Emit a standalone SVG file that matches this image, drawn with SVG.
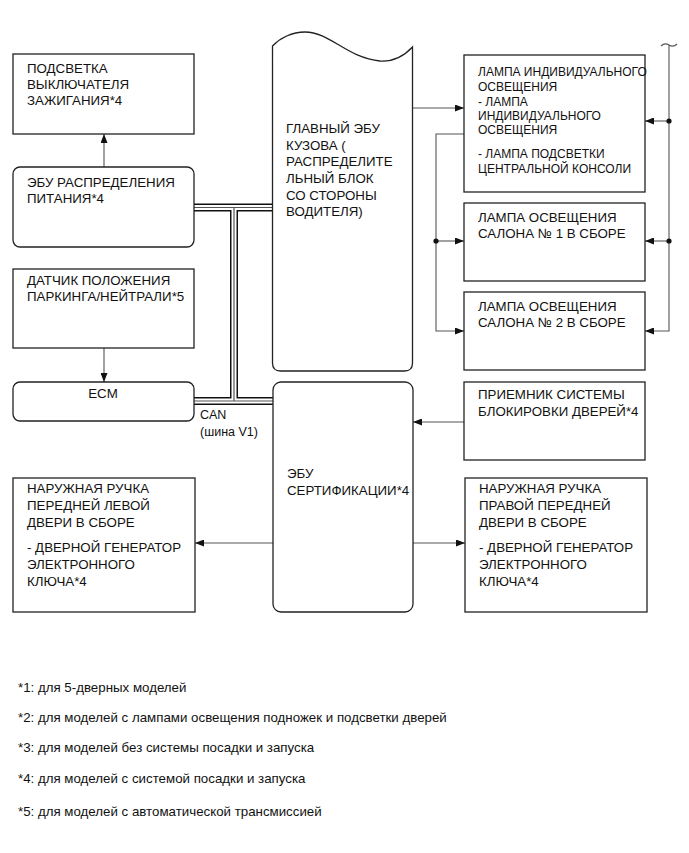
<svg xmlns="http://www.w3.org/2000/svg" width="689" height="853" viewBox="0 0 689 853">
<style>
text{font-family:"Liberation Sans",Arial,sans-serif;fill:#111;}
.t{font-size:13.3px;}
.s{font-size:12px;}
.c{font-size:12.5px;}
.f{font-size:13.3px;}
.box{fill:#fff;stroke:#222;stroke-width:1.3;}
.ln{fill:none;stroke:#555;stroke-width:1.1;}
.busA{fill:none;stroke:#111;stroke-width:8;}
.busB{fill:none;stroke:#fff;stroke-width:5;}
.busC{fill:none;stroke:#555;stroke-width:1.2;}
.dot{fill:#111;}
</style>
<defs>
<marker id="ah" viewBox="0 0 9 7" refX="9" refY="3.5" markerWidth="9" markerHeight="7" markerUnits="userSpaceOnUse" orient="auto"><path d="M0,0 L9,3.5 L0,7 z" fill="#111"/></marker>
</defs>
<rect width="689" height="853" fill="#fff"/>

<g id="connectors">
<path class="busA" d="M194,207.5 H272 M234,207.5 V401 M194,401 H273"/>
<path class="busB" d="M194,207.5 H272 M234,207.5 V401 M194,401 H273"/>
<path class="busC" d="M194,207.5 H272 M234,207.5 V401 M194,401 H273"/>
<path class="ln" d="M104,167 V134" marker-end="url(#ah)"/>
<path class="ln" d="M104,348 V382" marker-end="url(#ah)"/>
<path class="ln" d="M412,108 H464" marker-end="url(#ah)"/>
<path class="ln" d="M464,134 H436 V331 H464" marker-end="url(#ah)"/>
<path class="ln" d="M436,241 H464" marker-end="url(#ah)"/>
<path class="ln" d="M661,46 C664,43 666,43 669,45 C672,47 674,47 677,44"/>
<path class="ln" d="M669,45 V331 H645" marker-end="url(#ah)"/>
<path class="ln" d="M669,121 H645" marker-end="url(#ah)"/>
<path class="ln" d="M669,241 H645" marker-end="url(#ah)"/>
<path class="ln" d="M464,422 H413" marker-end="url(#ah)"/>
<path class="ln" d="M273,543 H195" marker-end="url(#ah)"/>
<path class="ln" d="M413,543 H465" marker-end="url(#ah)"/>
<circle class="dot" cx="436" cy="241" r="2.6"/>
<circle class="dot" cx="669" cy="121" r="2.6"/>
<circle class="dot" cx="669" cy="241" r="2.6"/>
<text class="c" x="200" y="419">CAN</text>
<text class="c" x="200" y="436">(шина V1)</text>
</g>

<g id="ignition-light">
<rect class="box" x="13" y="54" width="181" height="80"/>
<text class="t" x="27" y="73">ПОДСВЕТКА</text>
<text class="t" x="27" y="89">ВЫКЛЮЧАТЕЛЯ</text>
<text class="t" x="27" y="105">ЗАЖИГАНИЯ*4</text>
</g>

<g id="power-ecu">
<rect class="box" x="13" y="167" width="181" height="80" rx="7"/>
<text class="t" x="27" y="187">ЭБУ РАСПРЕДЕЛЕНИЯ</text>
<text class="t" x="27" y="203">ПИТАНИЯ*4</text>
</g>

<g id="pn-sensor">
<rect class="box" x="13" y="269" width="181" height="79"/>
<text class="t" x="27" y="285">ДАТЧИК ПОЛОЖЕНИЯ</text>
<text class="t" x="27" y="301">ПАРКИНГА/НЕЙТРАЛИ*5</text>
</g>

<g id="ecm">
<rect class="box" x="13" y="382" width="181" height="39" rx="7"/>
<text class="t" x="103" y="398" text-anchor="middle">ECM</text>
</g>

<g id="main-body-ecu">
<path class="box" d="M272.5,46 C280,38 292,32 305,32 C330,32 347,58 380,61 C395,62 405,55 412.5,47 V363 Q412.5,371 404.5,371 H280.5 Q272.5,371 272.5,363 Z"/>
<text class="t" x="286" y="133">ГЛАВНЫЙ ЭБУ</text>
<text class="t" x="286" y="150">КУЗОВА (</text>
<text class="t" x="286" y="166">РАСПРЕДЕЛИТЕ</text>
<text class="t" x="286" y="183">ЛЬНЫЙ БЛОК</text>
<text class="t" x="286" y="200">СО СТОРОНЫ</text>
<text class="t" x="286" y="216">ВОДИТЕЛЯ)</text>
</g>

<g id="personal-light">
<rect class="box" x="464" y="55" width="181" height="137"/>
<text class="s" x="478" y="76">ЛАМПА ИНДИВИДУАЛЬНОГО</text>
<text class="s" x="478" y="91">ОСВЕЩЕНИЯ</text>
<text class="s" x="478" y="106">- ЛАМПА</text>
<text class="s" x="478" y="120">ИНДИВИДУАЛЬНОГО</text>
<text class="s" x="478" y="134">ОСВЕЩЕНИЯ</text>
<text class="s" x="478" y="158">- ЛАМПА ПОДСВЕТКИ</text>
<text class="s" x="478" y="173">ЦЕНТРАЛЬНОЙ КОНСОЛИ</text>
</g>

<g id="room-light-1">
<rect class="box" x="464" y="203" width="181" height="78"/>
<text class="t" x="478" y="222">ЛАМПА ОСВЕЩЕНИЯ</text>
<text class="t" x="478" y="238">САЛОНА № 1 В СБОРЕ</text>
</g>

<g id="room-light-2">
<rect class="box" x="464" y="292" width="181" height="78"/>
<text class="t" x="478" y="311">ЛАМПА ОСВЕЩЕНИЯ</text>
<text class="t" x="478" y="327">САЛОНА № 2 В СБОРЕ</text>
</g>

<g id="door-lock-receiver">
<rect class="box" x="464" y="382" width="181" height="78"/>
<text class="t" x="478" y="399">ПРИЕМНИК СИСТЕМЫ</text>
<text class="t" x="478" y="416">БЛОКИРОВКИ ДВЕРЕЙ*4</text>
</g>

<g id="certification-ecu">
<rect class="box" x="273" y="382" width="140" height="230" rx="8"/>
<text class="t" x="287" y="478">ЭБУ</text>
<text class="t" x="287" y="495">СЕРТИФИКАЦИИ*4</text>
</g>

<g id="fl-door-handle">
<rect class="box" x="13" y="478" width="182" height="134"/>
<text class="t" x="27" y="493">НАРУЖНАЯ РУЧКА</text>
<text class="t" x="27" y="510">ПЕРЕДНЕЙ ЛЕВОЙ</text>
<text class="t" x="27" y="527">ДВЕРИ В СБОРЕ</text>
<text class="t" x="27" y="552">- ДВЕРНОЙ ГЕНЕРАТОР</text>
<text class="t" x="27" y="569">ЭЛЕКТРОННОГО</text>
<text class="t" x="27" y="586">КЛЮЧА*4</text>
</g>

<g id="fr-door-handle">
<rect class="box" x="465" y="478" width="182" height="134"/>
<text class="t" x="479" y="493">НАРУЖНАЯ РУЧКА</text>
<text class="t" x="479" y="510">ПРАВОЙ ПЕРЕДНЕЙ</text>
<text class="t" x="479" y="527">ДВЕРИ В СБОРЕ</text>
<text class="t" x="479" y="552">- ДВЕРНОЙ ГЕНЕРАТОР</text>
<text class="t" x="479" y="569">ЭЛЕКТРОННОГО</text>
<text class="t" x="479" y="586">КЛЮЧА*4</text>
</g>

<g id="footnotes">
<text class="f" x="18" y="692">*1: для 5-дверных моделей</text>
<text class="f" x="18" y="722">*2: для моделей с лампами освещения подножек и подсветки дверей</text>
<text class="f" x="18" y="752">*3: для моделей без системы посадки и запуска</text>
<text class="f" x="18" y="783">*4: для моделей с системой посадки и запуска</text>
<text class="f" x="18" y="816">*5: для моделей с автоматической трансмиссией</text>
</g>
</svg>
